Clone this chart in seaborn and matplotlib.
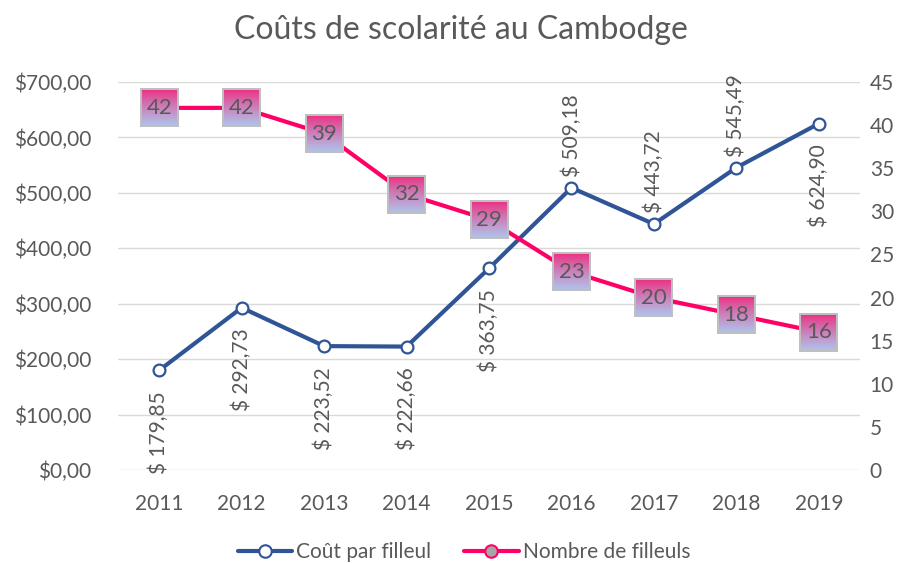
import matplotlib
matplotlib.use('Agg')
import matplotlib.pyplot as plt
from matplotlib.offsetbox import OffsetImage, AnnotationBbox
from matplotlib.lines import Line2D
import matplotlib.ticker as mticker
import numpy as np
import pandas as pd
import seaborn as sns

# donnees
annees = [2011, 2012, 2013, 2014, 2015, 2016, 2017, 2018, 2019]
cout_par_filleul = [179.85, 292.73, 223.52, 222.66, 363.75, 509.18, 443.72, 545.49, 624.90]
nombre_filleuls = [42, 42, 39, 32, 29, 23, 20, 18, 16]
# etiquette au-dessus (True) ou en dessous (False) du point
label_dessus = [False, False, False, False, False, True, True, True, False]

df = pd.DataFrame({'annee': annees, 'cout': cout_par_filleul, 'nombre': nombre_filleuls})

sns.set_theme(style='white')
plt.rcParams['font.family'] = ['Lato', 'DejaVu Sans']

BLEU = '#2F5597'
ROSE = '#FF0066'
GRIS_TXT = '#595959'

fig = plt.figure(figsize=(9.06, 5.63), dpi=100)
ax = fig.add_axes([118 / 906, 1 - 470 / 563, 742 / 906, 388 / 563])
ax2 = ax.twinx()

# cout par filleul (axe gauche)
sns.lineplot(data=df, x='annee', y='cout', ax=ax, color=BLEU, linewidth=3,
             marker='o', markersize=8.5, markerfacecolor='white',
             markeredgecolor=BLEU, markeredgewidth=1.6, zorder=3)

# nombre de filleuls (axe droit)
sns.lineplot(data=df, x='annee', y='nombre', ax=ax2, color=ROSE, linewidth=3, zorder=2)

ax.set_xlim(2010.5, 2019.5)
ax.set_ylim(0, 700)
ax2.set_ylim(0, 45)
ax.set_xticks(annees)
ax.set_yticks(np.arange(0, 701, 100))
ax2.set_yticks(np.arange(0, 46, 5))
ax.yaxis.set_major_formatter(mticker.FuncFormatter(lambda v, p: f"${v:.2f}".replace('.', ',')))
ax.set_xlabel('')
ax.set_ylabel('')
ax2.set_ylabel('')

ax.grid(axis='y', color='#D9D9D9', linewidth=1)
ax.set_axisbelow(True)
for a in (ax, ax2):
    for s in a.spines.values():
        s.set_visible(False)
    a.tick_params(length=0, labelsize=15, colors=GRIS_TXT)
ax.tick_params(axis='x', pad=17)
ax.tick_params(axis='y', pad=19)
ax2.tick_params(axis='y', pad=7)

# etiquettes du cout, tournees
for x, v, dessus in zip(annees, cout_par_filleul, label_dessus):
    txt = f"$ {v:.2f}".replace('.', ',')
    if dessus:
        ax.annotate(txt, (x, v), xytext=(0, 8), textcoords='offset points',
                    rotation=90, ha='center', va='bottom', fontsize=15,
                    color=GRIS_TXT, zorder=4)
    else:
        ax.annotate(txt, (x, v), xytext=(0, -15), textcoords='offset points',
                    rotation=90, ha='center', va='top', fontsize=15,
                    color=GRIS_TXT, zorder=4)

# cases degradees pour le nombre de filleuls
n = 40
haut = np.array([0.94, 0.16, 0.49])
bas = np.array([0.68, 0.78, 0.93])
t = (np.linspace(0, 1, n) ** 0.85)[:, None]
img = np.ones((n, n, 3)) * (haut * (1 - t) + bas * t)[:, None, :]
img[:2, :] = img[-2:, :] = 0.75
img[:, :2] = img[:, -2:] = 0.75
zoom = 39 / n * 72 / 100
for x, v in zip(annees, nombre_filleuls):
    ab = AnnotationBbox(OffsetImage(img, zoom=zoom), (x, v), frameon=False, pad=0)
    ab.set_zorder(5)
    ax2.add_artist(ab)
    ax2.text(x, v, str(v), ha='center', va='center', fontsize=16,
             color=GRIS_TXT, zorder=6)

fig.text(0.509, 1 - 30 / 563, 'Coûts de scolarité au Cambodge', ha='center',
         va='center', fontsize=23, color=GRIS_TXT)

handles = [
    Line2D([], [], color=BLEU, linewidth=3, marker='o', markersize=9,
           markerfacecolor='white', markeredgecolor=BLEU, markeredgewidth=1.5),
    Line2D([], [], color=ROSE, linewidth=3, marker='o', markersize=9,
           markerfacecolor='#A6A6A6', markeredgecolor=ROSE, markeredgewidth=1.5),
]
fig.legend(handles, ['Coût par filleul', 'Nombre de filleuls'], loc='center',
           bbox_to_anchor=(0.512, 1 - 552 / 563), ncol=2, frameon=False,
           fontsize=15, labelcolor=GRIS_TXT, handlelength=2.6,
           handletextpad=0.2, columnspacing=1.6)

fig.savefig('out.png', dpi=100)
